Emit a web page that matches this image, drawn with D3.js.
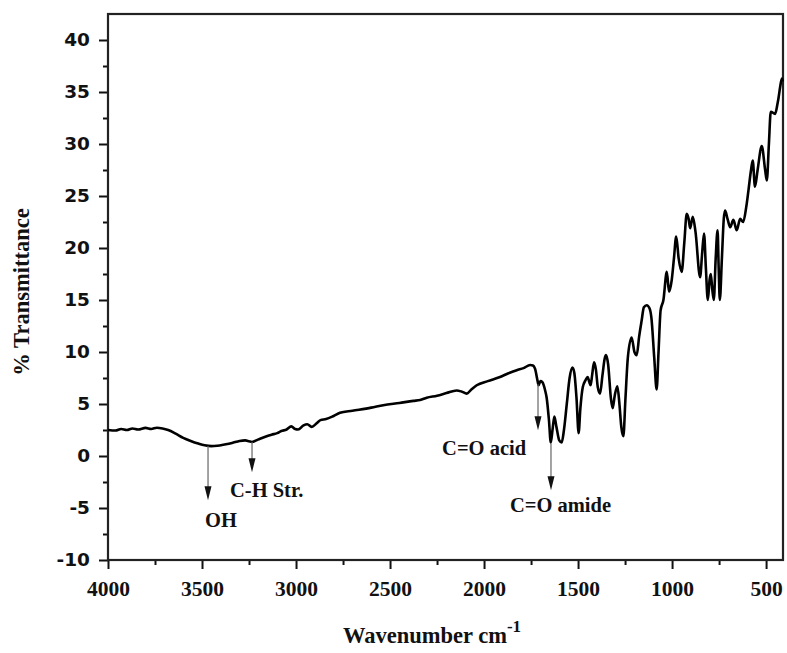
<!DOCTYPE html>
<html>
<head>
<meta charset="utf-8">
<script src="https://cdn.jsdelivr.net/npm/d3@7"></script>
<style>
  html, body { margin: 0; padding: 0; background: #fff; }
  svg { display: block; }
</style>
</head>
<body>
<svg id="chart" width="787" height="653"></svg>
<script>
// FTIR spectrum: wavenumber (cm-1) and % transmittance
const wavenumber = [
  4000, 3960, 3930, 3900, 3870, 3840, 3800, 3770, 3740, 3710, 3680, 3640, 3600, 3560, 3520,
  3486, 3450, 3420, 3380, 3340, 3300, 3270, 3250, 3235, 3200, 3167, 3130, 3100, 3078, 3050,
  3025, 3005, 2989, 2960, 2940, 2917, 2890, 2870, 2840, 2800, 2766, 2700, 2600, 2536, 2450,
  2376, 2340, 2305, 2250, 2200, 2146, 2120, 2092, 2070, 2039, 1980, 1915, 1870, 1826, 1790,
  1755, 1740, 1729, 1715, 1710, 1700, 1690, 1675, 1667, 1655, 1645, 1636, 1626, 1615, 1600,
  1587, 1575, 1560, 1545, 1530, 1520, 1508, 1497, 1488, 1475, 1460, 1449, 1440, 1433, 1425,
  1415, 1405, 1395, 1383, 1370, 1358, 1351, 1340, 1325, 1316, 1305, 1291, 1280, 1270, 1259,
  1248, 1235, 1215, 1200, 1188, 1175, 1162, 1150, 1135, 1120, 1110, 1095, 1082, 1072, 1061,
  1046, 1028, 1016, 1002, 990, 978, 965, 949, 935, 922, 912, 904, 890, 875, 851,
  840, 830, 820, 810, 800, 794, 786, 778, 768, 758, 752, 746, 735, 725, 718,
  705, 691, 674, 656, 638, 622, 605, 594, 580, 571, 559, 545, 523, 505, 496,
  485, 475, 452, 440, 434, 425, 416, 411
];
const transmittance = [
  2.5, 2.45, 2.6, 2.5, 2.65, 2.55, 2.7, 2.6, 2.72, 2.65, 2.5, 2.15, 1.75, 1.45, 1.2,
  1.03, 0.95, 0.98, 1.1, 1.25, 1.45, 1.5, 1.42, 1.35, 1.6, 1.83, 2.05, 2.2, 2.4, 2.55,
  2.85, 2.6, 2.55, 2.95, 3.05, 2.8, 3.15, 3.45, 3.55, 3.85, 4.15, 4.35, 4.65, 4.88, 5.1,
  5.3, 5.38, 5.6, 5.8, 6.05, 6.3, 6.2, 6.0, 6.35, 6.8, 7.2, 7.6, 7.95, 8.25, 8.45,
  8.75, 8.7, 8.4, 7.2, 6.8, 7.2, 7.1, 6.3, 5.6, 3.5, 1.3, 2.5, 3.8, 2.8, 1.5,
  1.3, 2.5, 5.0, 7.5, 8.5, 8.0, 5.5, 2.2, 4.5, 6.6, 7.3, 7.6, 7.1, 6.8, 7.8,
  9.0, 8.3, 6.6, 6.0, 7.8, 9.4, 9.7, 8.8, 5.5, 4.6, 5.8, 6.7, 5.0, 2.8, 1.9,
  5.5, 9.5, 11.4, 10.0, 9.7, 11.5, 13.0, 14.3, 14.5, 14.2, 13.3, 9.5, 6.4, 10.0, 14.0,
  15.0, 17.7, 15.8, 16.9, 19.0, 21.1, 19.0, 17.7, 20.5, 23.3, 22.8, 21.9, 23.0, 21.5, 17.2,
  19.5, 21.4, 18.0, 15.0, 17.0, 17.5, 16.0, 15.0, 19.0, 21.7, 18.0, 15.0, 19.0, 22.8, 23.6,
  22.8, 22.0, 22.7, 21.7, 22.8, 22.5, 24.0, 25.5, 27.5, 28.4, 25.9, 27.5, 29.8, 27.5, 26.5,
  30.0, 33.1, 32.9, 33.8, 34.4, 35.5, 36.3, 36.0
];

// Axis ticks
const xTicks = [4000, 3500, 3000, 2500, 2000, 1500, 1000, 500];
const xMinorTicks = [3750, 3250, 2750, 2250, 1750, 1250, 750];
const yTicks = [-10, -5, 0, 5, 10, 15, 20, 25, 30, 35, 40];
const yMinorTicks = [-7.5, -2.5, 2.5, 7.5, 12.5, 17.5, 22.5, 27.5, 32.5, 37.5];

// Band assignments: arrow at a wavenumber, from the trace down to a tip, with a text label
const bandLabels = ["OH", "C-H Str.", "C=O acid", "C=O amide"];
const bandWavenumber = [3468, 3234, 1713, 1644];
const bandArrowFrom = [0.95, 1.35, 6.9, 1.2];
const bandArrowTo = [-4.26, -1.57, 2.47, -3.3];
const bandLabelWavenumber = [3484, 3351, 2223, 1862];
const bandLabelValue = [-6.86, -3.97, 0.07, -5.41];

const spectrum = wavenumber.map((w, i) => ({ w, t: transmittance[i] }));

const svg = d3.select("#chart");
const margin = { left: 108, top: 14, right: 4, bottom: 93 };
const W = 787, H = 653;
const innerW = W - margin.left - margin.right;
const innerH = H - margin.top - margin.bottom;

const x = d3.scaleLinear().domain([4000, 410]).range([0, innerW]);
const y = d3.scaleLinear().domain([-10, 42.5]).range([innerH, 0]);

const g = svg.append("g").attr("transform", `translate(${margin.left},${margin.top})`);

const serif = "'Liberation Serif', 'Times New Roman', serif";
const sans = "'DejaVu Sans', sans-serif";
// plain hyphen-minus for negative tick labels
const plainNumber = d => String(d);

// Minor ticks
g.append("g")
  .attr("transform", `translate(0,${innerH})`)
  .call(d3.axisBottom(x).tickValues(xMinorTicks).tickSize(5).tickFormat(""))
  .call(s => s.select(".domain").remove())
  .call(s => s.selectAll("line").attr("stroke", "#111").attr("stroke-width", 2));
g.append("g")
  .call(d3.axisLeft(y).tickValues(yMinorTicks).tickSize(5).tickFormat(""))
  .call(s => s.select(".domain").remove())
  .call(s => s.selectAll("line").attr("stroke", "#111").attr("stroke-width", 2));

// Major ticks with labels
g.append("g")
  .attr("transform", `translate(0,${innerH})`)
  .call(d3.axisBottom(x).tickValues(xTicks).tickSize(9).tickPadding(12).tickFormat(plainNumber))
  .attr("font-family", serif)
  .attr("font-size", 21.5)
  .call(s => s.select(".domain").remove())
  .call(s => s.selectAll("line").attr("stroke", "#111").attr("stroke-width", 2))
  .call(s => s.selectAll("text")
    .attr("fill", "#111")
    .attr("font-family", serif)
    .attr("font-weight", "bold")
    .attr("font-size", 21.5));

g.append("g")
  .call(d3.axisLeft(y).tickValues(yTicks).tickSize(9).tickPadding(9).tickFormat(plainNumber))
  .attr("font-family", sans)
  .attr("font-size", 18.5)
  .call(s => s.select(".domain").remove())
  .call(s => s.selectAll("line").attr("stroke", "#111").attr("stroke-width", 2))
  .call(s => s.selectAll("text")
    .attr("fill", "#111")
    .attr("font-family", sans)
    .attr("font-weight", "bold")
    .attr("font-size", 18.5));

// Plot frame
g.append("rect")
  .attr("x", 0).attr("y", 0)
  .attr("width", innerW).attr("height", innerH)
  .attr("fill", "none")
  .attr("stroke", "#222")
  .attr("stroke-width", 2.2);

// Spectrum trace
const line = d3.line()
  .x(d => x(d.w))
  .y(d => y(d.t))
  .curve(d3.curveMonotoneX);

g.append("path")
  .datum(spectrum)
  .attr("d", line)
  .attr("fill", "none")
  .attr("stroke", "#000")
  .attr("stroke-width", 2.6)
  .attr("stroke-linejoin", "round");

// Band arrows and labels
const headH = 14, headW = 7;
bandLabels.forEach((label, i) => {
  const ax = x(bandWavenumber[i]);
  const y0 = y(bandArrowFrom[i]);
  const y1 = y(bandArrowTo[i]);
  g.append("line")
    .attr("x1", ax).attr("x2", ax)
    .attr("y1", y0).attr("y2", y1 - headH + 1)
    .attr("stroke", "#666")
    .attr("stroke-width", 1.2);
  g.append("path")
    .attr("d", `M${ax - headW / 2},${y1 - headH} L${ax + headW / 2},${y1 - headH} L${ax},${y1} Z`)
    .attr("fill", "#111");
  g.append("text")
    .attr("x", x(bandLabelWavenumber[i]))
    .attr("y", y(bandLabelValue[i]))
    .attr("fill", "#111")
    .attr("font-family", serif)
    .attr("font-weight", "bold")
    .attr("font-size", 20.5)
    .text(label);
});

// Axis titles
svg.append("text")
  .attr("transform", `translate(29,292) rotate(-90)`)
  .attr("text-anchor", "middle")
  .attr("fill", "#111")
  .attr("font-family", serif)
  .attr("font-weight", "bold")
  .attr("font-size", 22.5)
  .text("% Transmittance");

const xTitle = svg.append("text")
  .attr("x", 343)
  .attr("y", 643)
  .attr("fill", "#111")
  .attr("font-family", serif)
  .attr("font-weight", "bold")
  .attr("font-size", 22.5);
xTitle.append("tspan").text("Wavenumber cm");
xTitle.append("tspan")
  .attr("dy", -11)
  .attr("font-size", 17)
  .text("-1");
</script>
</body>
</html>
